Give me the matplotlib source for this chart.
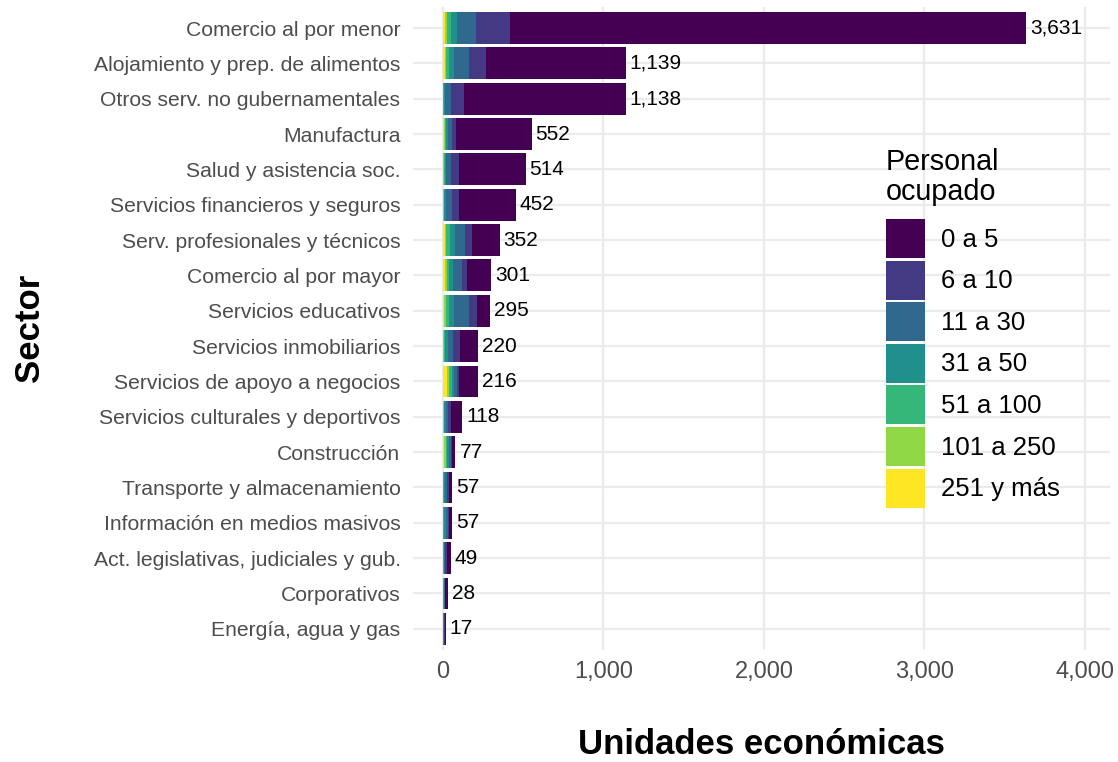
import numpy as np
import matplotlib
matplotlib.use("Agg")
import matplotlib.pyplot as plt
from matplotlib.patches import Patch

plt.rcParams['font.family'] = ['Liberation Sans', 'DejaVu Sans']

sectores = ["Comercio al por menor", "Alojamiento y prep. de alimentos",
            "Otros serv. no gubernamentales", "Manufactura",
            "Salud y asistencia soc.", "Servicios financieros y seguros",
            "Serv. profesionales y técnicos", "Comercio al por mayor",
            "Servicios educativos", "Servicios inmobiliarios",
            "Servicios de apoyo a negocios", "Servicios culturales y deportivos",
            "Construcción", "Transporte y almacenamiento",
            "Información en medios masivos", "Act. legislativas, judiciales y gub.",
            "Corporativos", "Energía, agua y gas"]

estratos = ["0 a 5", "6 a 10", "11 a 30", "31 a 50", "51 a 100", "101 a 250", "251 y más"]

# unidades por estrato (en el orden de 'estratos'), un valor por sector
e_0_5 =     [3213, 873, 1007, 474, 412, 350, 171, 151, 86, 112, 115, 67, 18, 22, 20, 24, 14, 7]
e_6_10 =    [214, 104, 79, 25, 52, 46, 45, 30, 44, 43, 12, 20, 8, 10, 9, 10, 4, 3]
e_11_30 =   [119, 94, 40, 25, 30, 35, 60, 58, 95, 37, 20, 14, 15, 12, 12, 6, 4, 3]
e_31_50 =   [37, 31, 8, 10, 10, 12, 35, 25, 30, 15, 15, 8, 10, 6, 8, 3, 2, 2]
e_51_100 =  [21, 17, 3, 5, 5, 5, 20, 15, 20, 8, 15, 5, 10, 4, 5, 3, 2, 1]
e_101_250 = [15, 10, 1, 5, 3, 2, 10, 12, 15, 3, 17, 3, 8, 2, 2, 2, 1, 1]
e_251 =     [12, 10, 0, 8, 2, 2, 11, 10, 5, 2, 22, 1, 8, 1, 1, 1, 1, 0]

totales = [3631, 1139, 1138, 552, 514, 452, 352, 301, 295, 220, 216, 118, 77, 57, 57, 49, 28, 17]

colores = ["#440154", "#443A83", "#31688E", "#21908C", "#35B779", "#8FD744", "#FDE725"]

series = [e_0_5, e_6_10, e_11_30, e_31_50, e_51_100, e_101_250, e_251]

fig = plt.figure(figsize=(11.18, 7.62), dpi=100)
W, H = 1118, 762
ax = fig.add_axes([413 / W, 1 - 650 / H, (1110 - 413) / W, (650 - 6.8) / H])

y = np.arange(len(sectores))
# apilado: 251 y más a la izquierda, 0 a 5 al final
izq = np.zeros(len(sectores))
for k in range(len(series) - 1, -1, -1):
    vals = np.array(series[k], dtype=float)
    ax.barh(y, vals, left=izq, height=0.9, color=colores[k], linewidth=0, zorder=2)
    izq += vals

for i, t in enumerate(totales):
    ax.text(t + 25, y[i], f"{t:,}", va='center', ha='left', fontsize=15, color='black', zorder=3)

ax.set_ylim(len(sectores) - 0.4, -0.6)
ax.set_xlim(-187, 4156)
ax.set_xticks([0, 1000, 2000, 3000, 4000])
ax.set_xticklabels([f"{v:,}" for v in [0, 1000, 2000, 3000, 4000]])
ax.set_yticks(y)
ax.set_yticklabels(sectores)
ax.tick_params(axis='both', length=0, labelcolor='#4D4D4D')
ax.tick_params(axis='y', pad=9, labelsize=15.2)
ax.tick_params(axis='x', pad=8, labelsize=17)
ax.grid(True, color='#EBEBEB', linewidth=1.6, zorder=0)
ax.set_axisbelow(True)
for s in ax.spines.values():
    s.set_visible(False)

fig.text(761 / W, 1 - 745 / H, "Unidades económicas", ha='center', va='center',
         fontsize=25, fontweight='bold')
fig.text(30 / W, 1 - 328 / H, "Sector", ha='center', va='center', rotation=90,
         fontsize=25, fontweight='bold')

# leyenda
fig.text(886 / W, 1 - 170 / H, "Personal", ha='left', va='baseline', fontsize=20.7)
fig.text(886 / W, 1 - 200 / H, "ocupado", ha='left', va='baseline', fontsize=20.7)
handles = [Patch(facecolor=c, edgecolor='none') for c in colores]
leg = fig.legend(handles, estratos, loc='upper left',
                 bbox_to_anchor=(886 / W, 1 - 219 / H), frameon=False,
                 fontsize=18.5, handlelength=1.52, handleheight=1.96,
                 labelspacing=0.1, handletextpad=0.62, borderpad=0, borderaxespad=0)

fig.savefig("out.png", dpi=100, facecolor='white')
